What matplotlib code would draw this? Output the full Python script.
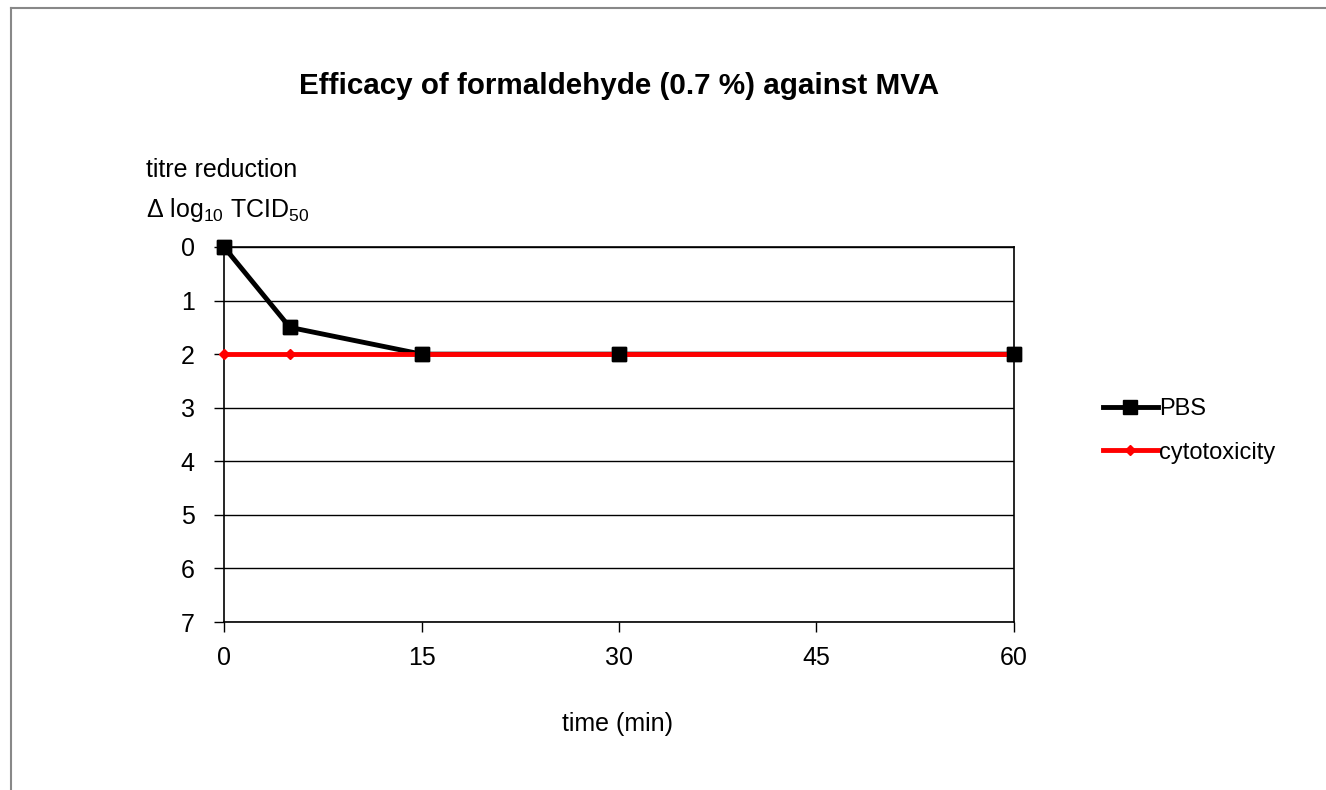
import matplotlib
matplotlib.use('Agg')
import matplotlib.pyplot as plt
from matplotlib.lines import Line2D

plt.rcParams['font.family'] = ['Liberation Sans', 'DejaVu Sans']
plt.rcParams['mathtext.fontset'] = 'custom'
plt.rcParams['mathtext.rm'] = 'Liberation Sans'

# data
time_min = [0, 5, 15, 30, 60]
pbs = [0, 1.5, 2, 2, 2]
cytotoxicity = [2, 2, 2, 2, 2]
x_ticks = [0, 15, 30, 45, 60]
y_ticks = [0, 1, 2, 3, 4, 5, 6, 7]

fig = plt.figure(figsize=(13.26, 7.9), dpi=100)
ax = fig.add_axes([224 / 1326, 1 - 622 / 790, 790 / 1326, 375 / 790])

# figure frame: only left and top edges visible
fig.add_artist(Line2D([11 / 1326, 11 / 1326], [0, 1 - 8 / 790], transform=fig.transFigure,
                      color='#888888', lw=1.5))
fig.add_artist(Line2D([11 / 1326, 1], [1 - 8 / 790, 1 - 8 / 790], transform=fig.transFigure,
                      color='#888888', lw=1.5))

ax.plot(time_min, pbs, color='black', lw=3.5, marker='s', markersize=10, zorder=3, label='PBS',
        clip_on=False)
ax.plot(time_min, cytotoxicity, color='red', lw=3.5, marker='D', markersize=5, zorder=4,
        label='cytotoxicity', clip_on=False)
# PBS markers sit on top of the red line
ax.plot(time_min, pbs, color='black', ls='none', marker='s', markersize=10, zorder=5,
        clip_on=False)

ax.set_xlim(0, 60)
ax.set_ylim(7, 0)
ax.set_xticks(x_ticks)
ax.set_yticks(y_ticks)
ax.yaxis.grid(True, color='black', lw=1)
ax.set_axisbelow(True)
for s in ax.spines.values():
    s.set_linewidth(1.2)
ax.tick_params(axis='both', direction='out', length=7, width=1, labelsize=18)
ax.tick_params(axis='x', pad=10)
ax.tick_params(axis='y', pad=14)

fig.text(619 / 1326, 1 - 86 / 790, 'Efficacy of formaldehyde (0.7 %) against MVA',
         ha='center', va='center', fontsize=21.3, fontweight='bold')
fig.text(146 / 1326, 1 - 170 / 790, 'titre reduction', ha='left', va='center', fontsize=18)
fig.text(146 / 1326, 1 - 210 / 790, r'$\Delta$ log$_{10}$ TCID$_{50}$', ha='left', va='center',
         fontsize=18)
fig.text(617 / 1326, 1 - 724 / 790, 'time (min)', ha='center', va='center', fontsize=18)

fig.legend(loc='center left', bbox_to_anchor=(1082 / 1326, 1 - 431 / 790), frameon=False,
           fontsize=17, handlelength=2.3, handletextpad=0.05, labelspacing=0.9)

fig.savefig('out.png', dpi=100)
